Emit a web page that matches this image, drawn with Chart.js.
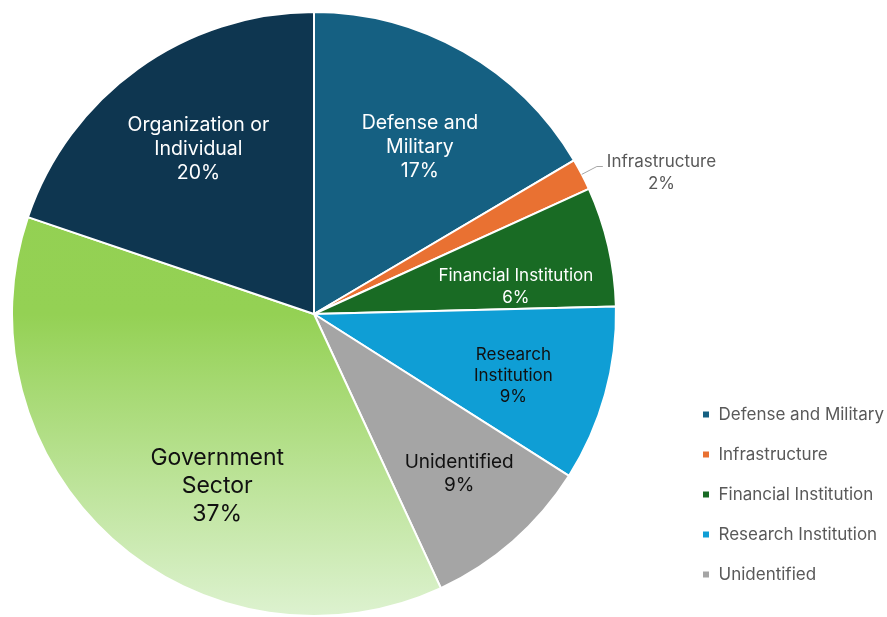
<!DOCTYPE html>
<html>
<head>
<meta charset="utf-8">
<script src="https://cdn.jsdelivr.net/npm/chart.js@4/dist/chart.umd.min.js"></script>
<style>
  html, body { margin: 0; padding: 0; background: #fff; }
  #wrap { width: 887px; height: 617px; position: relative; }
</style>
</head>
<body>
<div id="wrap"><canvas id="myChart"></canvas></div>
<script>
// shares (percent)
const categories = ['Defense and Military', 'Infrastructure', 'Financial Institution',
  'Research Institution', 'Unidentified', 'Government Sector', 'Organization or Individual'];
const shares = [16.5, 1.7, 6.4, 9.4, 9.1, 37.1, 19.8];
const shownPct = ['17%', '2%', '6%', '9%', '9%', '37%', '20%'];
const legendCategories = ['Defense and Military', 'Infrastructure', 'Financial Institution',
  'Research Institution', 'Unidentified'];

const colors = ['#156082', '#E97132', '#196B24', '#0F9ED5', '#A5A5A5', 'gradient', '#0E3650'];

// how each slice label is written
const labelLines = [
  ['Defense and', 'Military'],
  ['Infrastructure'],
  ['Financial Institution'],
  ['Research', 'Institution'],
  ['Unidentified'],
  ['Government', 'Sector'],
  ['Organization or', 'Individual']
];
const labelStyle = [
  { size: 19.5, lh: 24, color: '#ffffff', r: 0.66, turn: 2.4 },
  { size: 17, lh: 22, color: '#595959', outside: true },
  { size: 17, lh: 22, color: '#ffffff', r: 0.675, turn: 5 },
  { size: 17, lh: 21, color: '#111111', r: 0.69, turn: 1.4 },
  { size: 19, lh: 23, color: '#111111', r: 0.71, turn: -1.4 },
  { size: 23, lh: 28, color: '#111111', r: 0.65, turn: -12.4 },
  { size: 19.5, lh: 24, color: '#ffffff', r: 0.67, turn: 0.8 }
];

const FONT = 'Inter, "Noto Sans", sans-serif';

function sliceColor(ctx) {
  const c = colors[ctx.dataIndex];
  if (c !== 'gradient') return c;
  const area = ctx.chart.chartArea;
  if (!area) return '#92D050';
  const g = ctx.chart.ctx.createLinearGradient(0, area.top, 0, area.bottom);
  g.addColorStop(0, '#92D050');
  g.addColorStop(0.5, '#94D154');
  g.addColorStop(1, '#DDF2D0');
  return g;
}

const sliceLabels = {
  id: 'sliceLabels',
  afterDatasetsDraw(chart) {
    const ctx = chart.ctx;
    const meta = chart.getDatasetMeta(0);
    meta.data.forEach((arc, i) => {
      const p = arc.getProps(['x', 'y', 'startAngle', 'endAngle', 'outerRadius'], true);
      const st = labelStyle[i];
      const lines = labelLines[i].concat([shownPct[i]]);
      const mid = (p.startAngle + p.endAngle) / 2;
      ctx.save();
      ctx.font = st.size + 'px ' + FONT;
      ctx.fillStyle = st.color;
      ctx.textAlign = 'center';
      ctx.textBaseline = 'middle';
      let cx, cy;
      if (st.outside) {
        const ex = p.x + Math.cos(mid) * p.outerRadius;
        const ey = p.y + Math.sin(mid) * p.outerRadius;
        const bx = p.x + Math.cos(mid) * (p.outerRadius + 17);
        const by = p.y + Math.sin(mid) * (p.outerRadius + 17);
        ctx.strokeStyle = '#A6A6A6';
        ctx.lineWidth = 1;
        ctx.beginPath();
        ctx.moveTo(ex, ey);
        ctx.lineTo(bx, by);
        ctx.lineTo(bx + 6, by);
        ctx.stroke();
        const w = Math.max(...lines.map(t => ctx.measureText(t).width));
        cx = bx + 10 + w / 2;
        cy = by + 6;
      } else {
        const a = mid + st.turn * Math.PI / 180;
        cx = p.x + Math.cos(a) * p.outerRadius * st.r;
        cy = p.y + Math.sin(a) * p.outerRadius * st.r + 1.5;
      }
      lines.forEach((t, k) => {
        ctx.fillText(t, cx, cy + (k - (lines.length - 1) / 2) * st.lh);
      });
      ctx.restore();
    });
  }
};

// pie sits left of the legend with a gap; legend block lifted off the bottom
const placeBoxes = {
  id: 'placeBoxes',
  afterLayout(chart) {
    const a = chart.chartArea;
    a.right = 628 - a.left;
    a.width = a.right - a.left;
    if (chart.legend) {
      chart.legend.bottom -= 11;
      chart.legend.left += 7;
      chart.legend.right += 7;
    }
  }
};

new Chart(document.getElementById('myChart'), {
  type: 'pie',
  data: {
    labels: categories,
    datasets: [{
      data: shares,
      backgroundColor: sliceColor,
      borderColor: '#ffffff',
      borderWidth: 2,
      hoverOffset: 0
    }]
  },
  options: {
    responsive: true,
    maintainAspectRatio: false,
    animation: false,
    layout: { padding: { left: 0, top: 11, right: 0, bottom: 0 } },
    plugins: {
      tooltip: { enabled: false },
      legend: {
        position: 'right',
        align: 'end',
        labels: {
          boxWidth: 8,
          boxHeight: 8,
          padding: 23,
          color: '#595959',
          font: { family: FONT, size: 17 },
          filter: item => legendCategories.includes(item.text)
        }
      }
    }
  },
  plugins: [sliceLabels, placeBoxes]
});
</script>
</body>
</html>
